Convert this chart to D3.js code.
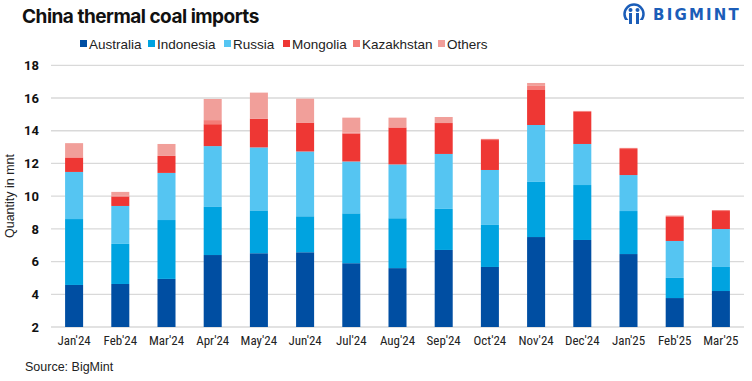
<!DOCTYPE html>
<html>
<head>
<meta charset="utf-8">
<script src="https://cdn.jsdelivr.net/npm/d3@7"></script>
<style>
  html, body { margin: 0; padding: 0; background: #fff; }
  svg { display: block; }
</style>
</head>
<body>
<svg id="chart" width="752" height="381"></svg>
<script>
const categories = ["Jan'24","Feb'24","Mar'24","Apr'24","May'24","Jun'24","Jul'24","Aug'24","Sep'24","Oct'24","Nov'24","Dec'24","Jan'25","Feb'25","Mar'25"];
const seriesNames = ["Australia","Indonesia","Russia","Mongolia","Kazakhstan","Others"];
const australia  = [4.57,4.63,4.94,6.40,6.51,6.57,5.90,5.60,6.71,5.67,7.50,7.32,6.46,3.77,4.20];
const indonesia  = [4.03,2.45,3.60,2.94,2.62,2.20,3.05,3.05,2.51,2.57,3.37,3.36,2.63,1.23,1.47];
const russia     = [2.88,2.32,2.88,3.72,3.85,3.96,3.17,3.29,3.36,3.36,3.48,2.51,2.20,2.26,2.32];
const mongolia   = [0.87,0.57,1.04,1.34,1.76,1.77,1.71,2.26,1.89,1.83,2.14,1.96,1.59,1.47,1.10];
const kazakhstan = [0.04,0.05,0.00,0.25,0.00,0.00,0.05,0.00,0.00,0.07,0.25,0.06,0.07,0.08,0.06];
const others     = [0.85,0.24,0.73,1.29,1.59,1.46,0.92,0.60,0.37,0.00,0.18,0.00,0.00,0.00,0.00];
const yTicks = [2,4,6,8,10,12,14,16,18];
const colors = ["#004EA2","#00A3E0","#55C5F2","#EE3734","#F47C78","#F19F9A"];

const seriesData = [australia, indonesia, russia, mongolia, kazakhstan, others];
const rows = categories.map((c, i) => {
  const r = { month: c };
  seriesNames.forEach((s, j) => r[s] = seriesData[j][i]);
  return r;
});

const svg = d3.select("#chart");
const plotLeft = 51, plotRight = 744, plotTop = 65.3, plotBottom = 327;

const x = d3.scaleBand().domain(categories).range([plotLeft, plotRight]).paddingInner(0.61).paddingOuter(0.305);
const y = d3.scaleLinear().domain([2, 18]).range([plotBottom, plotTop]).clamp(true);

// gridlines
svg.append("g").selectAll("line").data(yTicks).join("line")
  .attr("x1", plotLeft).attr("x2", plotRight)
  .attr("y1", d => y(d)).attr("y2", d => y(d))
  .attr("stroke", "#d9d9d9").attr("stroke-width", 1.3);

// y axis labels
const yAxis = d3.axisLeft(y).tickValues(yTicks).tickSize(0).tickPadding(0);
const gy = svg.append("g").attr("transform", `translate(39,0)`).call(yAxis);
gy.select(".domain").remove();
gy.selectAll("text").attr("font-family", "Roboto, 'Liberation Sans', sans-serif")
  .attr("font-size", 13).attr("font-weight", "bold").attr("fill", "#111");

// stacked bars
const stack = d3.stack().keys(seriesNames);
const stacked = stack(rows);
svg.append("g").selectAll("g").data(stacked).join("g")
  .attr("fill", (d, i) => colors[i])
  .selectAll("rect").data(d => d).join("rect")
  .attr("x", d => x(d.data.month))
  .attr("width", x.bandwidth())
  .attr("y", d => y(d[1]))
  .attr("height", d => Math.max(0, y(d[0]) - y(d[1])));

// x axis labels
const xAxis = d3.axisBottom(x).tickSize(0).tickPadding(0);
const gx = svg.append("g").attr("transform", `translate(0,${plotBottom + 9})`).call(xAxis);
gx.select(".domain").remove();
gx.selectAll("text").attr("font-family", "'Liberation Sans Narrow', 'Roboto Condensed', 'Liberation Sans', sans-serif")
  .attr("font-size", 13).attr("fill", "#222");

// y axis title
svg.append("text")
  .attr("transform", "translate(14,196) rotate(-90)")
  .attr("text-anchor", "middle")
  .attr("font-family", "'Liberation Sans Narrow', 'Liberation Sans', sans-serif")
  .attr("font-size", 12.5).attr("fill", "#222")
  .text("Quantity in mnt");

// title
svg.append("text").attr("x", 22).attr("y", 23)
  .attr("font-family", "Inter, Roboto, sans-serif").attr("font-weight", "bold")
  .attr("font-size", 19).attr("letter-spacing", -0.5).attr("fill", "#111")
  .text("China thermal coal imports");

// legend
const legendX = [80, 148, 224, 283, 353, 438];
const lg = svg.append("g").selectAll("g").data(seriesNames).join("g")
  .attr("transform", (d, i) => `translate(${legendX[i]},44)`);
lg.append("rect").attr("x", 0).attr("y", -4).attr("width", 7).attr("height", 7)
  .attr("fill", (d, i) => colors[i]);
lg.append("text").attr("x", 9).attr("y", 0).attr("dy", "0.35em")
  .attr("font-family", "'Liberation Sans Narrow', 'Liberation Sans', sans-serif")
  .attr("font-size", 13.5).attr("fill", "#222").text(d => d);

// source
svg.append("text").attr("x", 25).attr("y", 371)
  .attr("font-family", "'Liberation Sans Narrow', 'Liberation Sans', sans-serif")
  .attr("font-size", 12.5).attr("fill", "#222").text("Source: BigMint");

// logo
const logo = svg.append("g").attr("transform", "translate(634,14)");
logo.append("circle").attr("r", 9.5).attr("fill", "none").attr("stroke", "#1B5DB8").attr("stroke-width", 2.5);
logo.append("circle").attr("cx", -3.5).attr("cy", -4).attr("r", 2).attr("fill", "#1B5DB8");
logo.append("circle").attr("cx", 3.5).attr("cy", -4).attr("r", 2).attr("fill", "#1B5DB8");
logo.append("rect").attr("x", -5).attr("y", -1).attr("width", 3).attr("height", 10).attr("fill", "#1B5DB8");
logo.append("rect").attr("x", 2).attr("y", -1).attr("width", 3).attr("height", 10).attr("fill", "#1B5DB8");
logo.append("rect").attr("x", -10).attr("y", 6).attr("width", 20).attr("height", 6).attr("fill", "#fff");
logo.append("rect").attr("x", -5).attr("y", 6).attr("width", 3).attr("height", 4).attr("fill", "#1B5DB8");
logo.append("rect").attr("x", 2).attr("y", 6).attr("width", 3).attr("height", 4).attr("fill", "#1B5DB8");
svg.append("text").attr("x", 653).attr("y", 20)
  .attr("font-family", "'DejaVu Sans', sans-serif").attr("font-weight", "bold")
  .attr("font-size", 15).attr("letter-spacing", 2.2).attr("fill", "#1B5DB8")
  .text("BIGMINT");
</script>
</body>
</html>
